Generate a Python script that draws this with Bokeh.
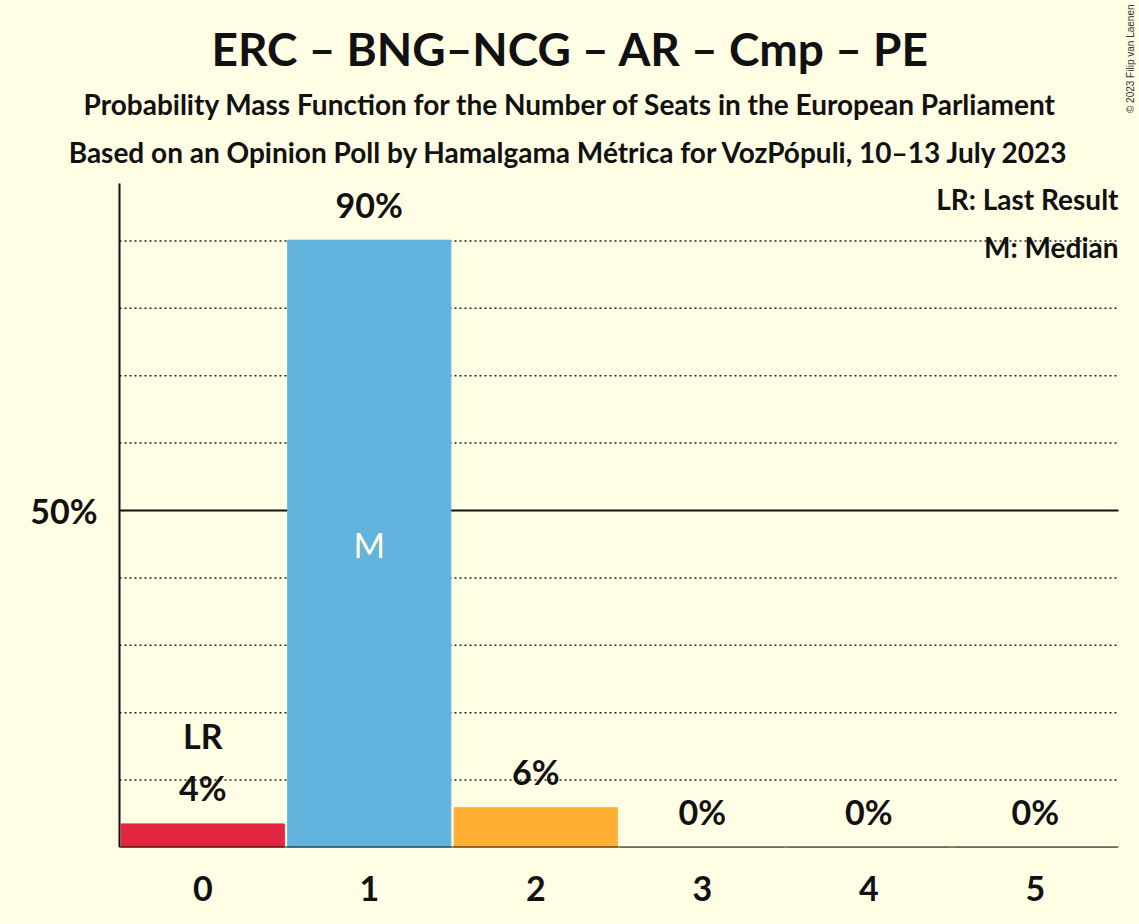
import math
from bokeh.plotting import figure
from bokeh.models import Range1d, FixedTicker, Label, ColumnDataSource
from bokeh.core.properties import value
from bokeh.embed import file_html
from bokeh.resources import INLINE

# data
seats = [0, 1, 2, 3, 4, 5]
probs = [3.5, 90.1, 5.9, 0.0, 0.0, 0.0]
bar_colors = ["#E3263F", "#62B3DE", "#FFAF33", "#FFAF33", "#FFAF33", "#FFAF33"]
last_result = 0
median = 1
y_ticks = [50]
y_tick_labels = ["50%"]
grid_ticks = [10, 20, 30, 40, 60, 70, 80, 90]
y_top = 98.5

title = "ERC – BNG–NCG – AR – Cmp – PE"
subtitle1 = "Probability Mass Function for the Number of Seats in the European Parliament"
subtitle2 = "Based on an Opinion Poll by Hamalgama Métrica for VozPópuli, 10–13 July 2023"

bg = "#FFFDE4"
ink = "#111111"
font = "Lato"

# pixel geometry: the frame fills the whole canvas above the x axis so that
# titles and legend can sit inside it
px = 166.5   # pixels per seat
py = 6.74    # pixels per percent
W, H = 1139, 924
left, bottom = 119, 77

def xd(page_x):
    return -0.5 + (page_x - left) / px

def yd(page_y):
    return (H - bottom - page_y) / py

p = figure(width=W, height=H, output_backend="svg", toolbar_location=None,
           x_range=Range1d(xd(0), xd(W)), y_range=Range1d(0, yd(0)),
           min_border_left=0, min_border_right=0, min_border_top=0, min_border_bottom=bottom,
           background_fill_color=bg, border_fill_color=bg)
p.outline_line_color = None
p.xgrid.grid_line_color = None
p.ygrid.grid_line_color = None
p.yaxis.visible = False

x_lo, x_hi = -0.5, 5.5
# dotted grid lines and the solid 50% line
p.segment(x0=x_lo, x1=x_hi, y0=grid_ticks, y1=grid_ticks, line_color="#222222",
          line_width=1.5, line_dash="2 3")
p.segment(x0=x_lo, x1=x_hi, y0=y_ticks, y1=y_ticks, line_color=ink, line_width=2)

src = ColumnDataSource(dict(x=seats, top=probs, color=bar_colors,
                            label=["%d%%" % round(v) for v in probs]))
p.vbar(x="x", top="top", width=0.98, color="color", source=src)

# axis lines
p.segment(x0=[x_lo, x_lo], x1=[x_hi, x_lo], y0=[0, 0], y1=[0, y_top], line_color=ink, line_width=2)

# y tick label
p.text(x=[x_lo] * len(y_ticks), y=y_ticks, text=y_tick_labels, text_align="right",
       text_baseline="middle", x_offset=-22, text_font=value(font), text_font_style="bold",
       text_font_size="34px", text_color=ink)

# value labels
p.text(x="x", y="top", text="label", source=src, text_align="center", text_baseline="alphabetic",
       y_offset=-36, text_font=value(font), text_font_style="bold", text_font_size="34px",
       text_color=ink)

# LR and M markers
p.add_layout(Label(x=seats[last_result], y=probs[last_result], text="LR", text_align="center",
                   y_offset=68, text_font=font, text_font_style="bold", text_font_size="34px",
                   text_color=ink))
p.add_layout(Label(x=seats[median], y=probs[median] / 2, text="M", text_align="center",
                   text_baseline="middle", y_offset=-1, text_font=font, text_font_size="34px",
                   text_color=bg))

# x axis (labels only)
p.xaxis.ticker = FixedTicker(ticks=seats)
p.xaxis.major_tick_line_color = None
p.xaxis.minor_tick_line_color = None
p.xaxis.axis_line_color = None
p.xaxis.major_label_text_font = font
p.xaxis.major_label_text_font_style = "bold"
p.xaxis.major_label_text_font_size = "34px"
p.xaxis.major_label_text_color = ink
p.xaxis.major_label_standoff = 22

# titles and legend
def header(text, page_x, page_y, size, align="center"):
    p.add_layout(Label(x=xd(page_x), y=yd(page_y), text=text, text_align=align,
                       text_baseline="alphabetic", text_font=font, text_font_style="bold",
                       text_font_size=size, text_color=ink))

header(title, 570, 48, "46px")
header(subtitle1, 570, 103, "28px")
header(subtitle2, 569, 151, "28px")
header("LR: Last Result", 1118, 198, "28px", "right")
header("M: Median", 1118, 246, "28px", "right")

p.add_layout(Label(x=xd(1135), y=yd(4), text="© 2023 Filip van Laenen", text_align="right",
                   angle=math.pi / 2, text_font="Liberation Sans", text_font_size="10px",
                   text_color="#333333"))

open("out.html", "w").write(file_html(p, INLINE))
